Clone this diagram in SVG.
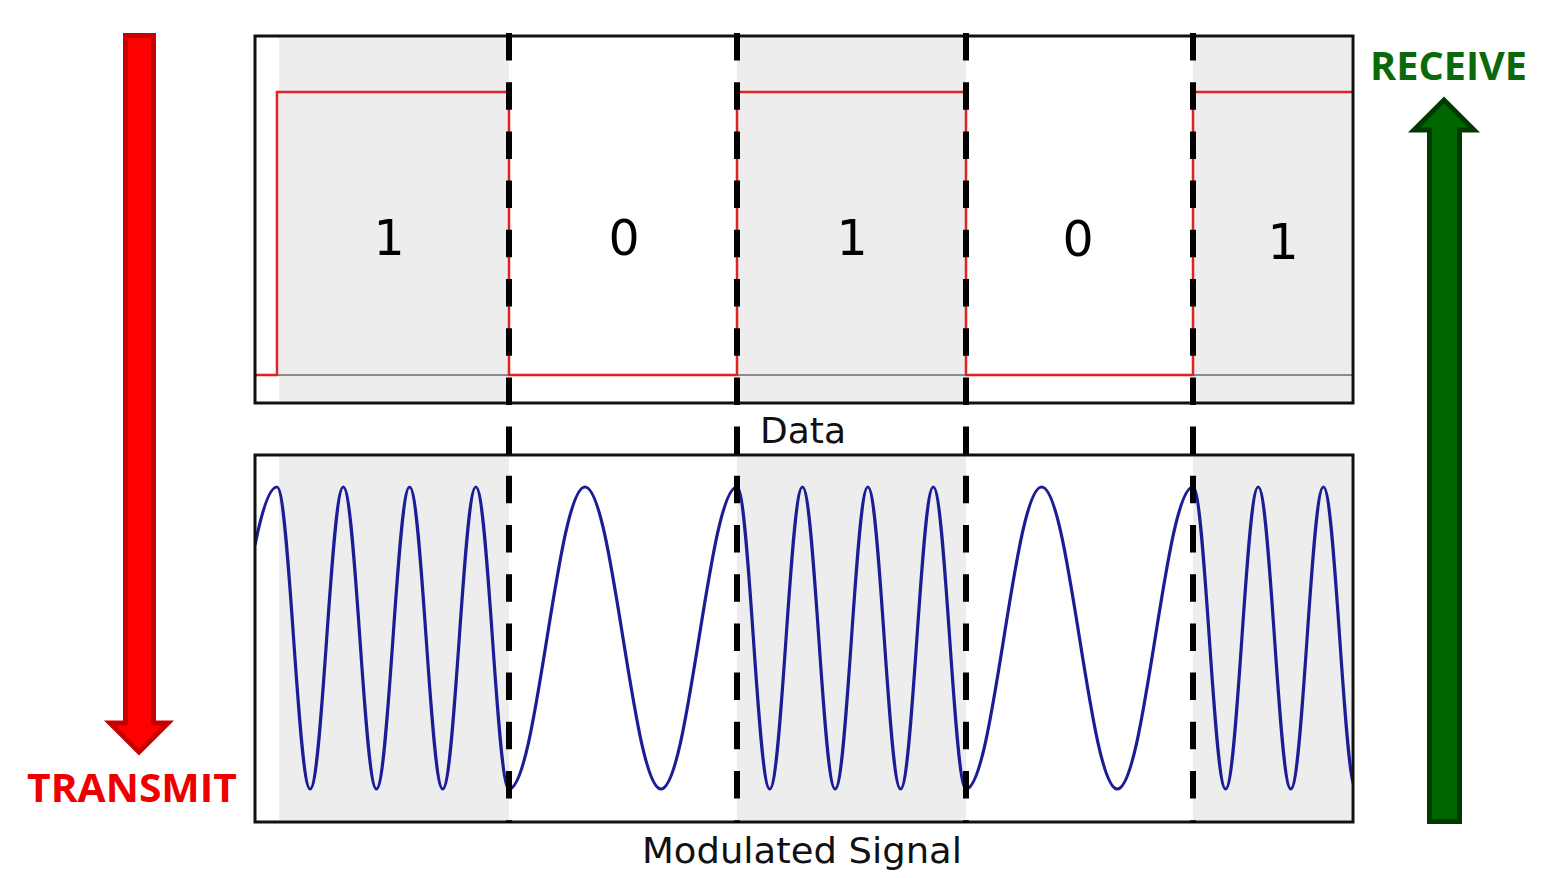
<svg xmlns="http://www.w3.org/2000/svg" width="1551" height="878" viewBox="0 0 1551 878">
<defs>
<style>
.panel{fill:#ffffff}
.shade{fill:#ededed}
.frame{fill:none;stroke:#111;stroke-width:3}
.base{stroke:#8a8a8a;stroke-width:2;fill:none}
.data{stroke:#e02222;stroke-width:2.5;fill:none}
.wave{stroke:#1c1c96;stroke-width:3.2;fill:none;stroke-linejoin:round}
.div{stroke:#000;stroke-width:6;stroke-dasharray:27.5 21.7;fill:none}
.digit{font-family:"DejaVu Sans",sans-serif;font-size:49px;fill:#000;text-anchor:middle}
.cap{font-family:"DejaVu Sans",sans-serif;font-size:36px;fill:#111}
.big{font-family:"Open Sans","Liberation Sans",sans-serif;font-weight:bold;font-size:39px}
</style>
<clipPath id="clipTop"><rect x="255" y="36" width="1098" height="367"/></clipPath>
<clipPath id="clipBot"><rect x="255" y="455" width="1098" height="367"/></clipPath>
</defs>

<g id="data-panel">
<rect class="panel" x="255" y="36" width="1098" height="367"/>
<rect class="shade" x="279" y="38" width="230" height="363"/>
<rect class="shade" x="737" y="38" width="229" height="363"/>
<rect class="shade" x="1193" y="38" width="158" height="363"/>
<line class="base" x1="255" y1="375" x2="1352" y2="375"/>
<path class="data" clip-path="url(#clipTop)" d="M255,375 H277 V92 H509 V375 H737 V92 H966 V375 H1193 V92 H1352"/>
<rect class="frame" x="255" y="36" width="1098" height="367"/>
<text class="digit" x="389" y="255">1</text>
<text class="digit" x="624" y="255">0</text>
<text class="digit" x="852" y="255">1</text>
<text class="digit" x="1078" y="256">0</text>
<text class="digit" x="1283" y="259">1</text>
<text class="cap" x="803" y="443" text-anchor="middle">Data</text>
</g>

<g id="signal-panel">
<rect class="panel" x="255" y="455" width="1098" height="367"/>
<rect class="shade" x="279" y="457" width="230" height="363"/>
<rect class="shade" x="737" y="457" width="229" height="363"/>
<rect class="shade" x="1193" y="457" width="158" height="363"/>
<path class="wave" clip-path="url(#clipBot)" d="M255,545 C262.3,509 269.7,487 277,487
C289.07,487 298.07,789 310.14,789
C322.21,789 331.22,487 343.29,487
C355.36,487 364.36,789 376.43,789
C388.5,789 397.5,487 409.57,487
C421.64,487 430.64,789 442.71,789
C454.78,789 463.79,487 475.86,487
C487.93,487 496.93,789 509,789
C536.68,789 557.32,487 585,487
C612.68,487 633.32,789 661,789
C688.68,789 709.32,487 737,487
C748.91,487 757.8,789 769.71,789
C781.62,789 790.52,487 802.43,487
C814.34,487 823.23,789 835.14,789
C847.05,789 855.95,487 867.86,487
C879.77,487 888.66,789 900.57,789
C912.48,789 921.38,487 933.29,487
C945.2,487 954.09,789 966,789
C993.56,789 1014.11,487 1041.67,487
C1069.23,487 1089.77,789 1117.33,789
C1144.89,789 1165.44,487 1193,487
C1204.87,487 1213.73,789 1225.6,789
C1237.47,789 1246.33,487 1258.2,487
C1270.07,487 1278.93,789 1290.8,789
C1302.67,789 1311.53,487 1323.4,487
C1335.27,487 1344.13,789 1356,789"/>
<rect class="frame" x="255" y="455" width="1098" height="367"/>
<text class="cap" x="802" y="863" text-anchor="middle" textLength="320" lengthAdjust="spacingAndGlyphs">Modulated Signal</text>
</g>

<g id="connectors">
<line class="div" x1="509" y1="33" x2="509" y2="823"/>
<line class="div" x1="737" y1="33" x2="737" y2="823"/>
<line class="div" x1="966" y1="33" x2="966" y2="823"/>
<line class="div" x1="1193" y1="33" x2="1193" y2="823"/>
</g>

<g id="transmit">
<polygon points="125.5,35.5 153.5,35.5 153.5,723 168,723 139,752 110,723 125.5,723" fill="#ff0000" stroke="#c80000" stroke-width="5" stroke-linejoin="miter"/>
<text class="big" x="27" y="802" fill="#ee0000" textLength="210" lengthAdjust="spacingAndGlyphs">TRANSMIT</text>
</g>

<g id="receive">
<polygon points="1429.5,821.5 1459.5,821.5 1459.5,130 1474,130 1444,100 1414,130 1429.5,130" fill="#006600" stroke="#003a00" stroke-width="5" stroke-linejoin="miter"/>
<text class="big" x="1370" y="80" fill="#0a6a0a" textLength="157" lengthAdjust="spacingAndGlyphs">RECEIVE</text>
</g>
</svg>
